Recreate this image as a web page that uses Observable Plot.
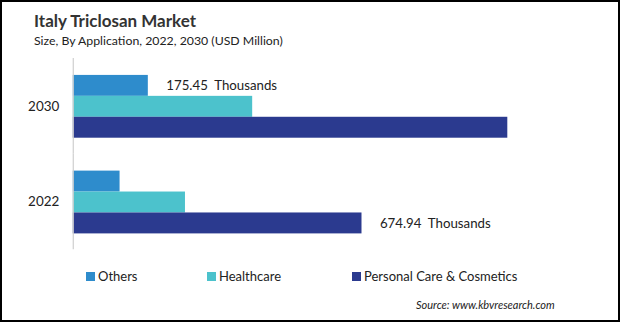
<!DOCTYPE html>
<html>
<head>
<meta charset="utf-8">
<script src="https://cdn.jsdelivr.net/npm/d3@7"></script>
<script src="https://cdn.jsdelivr.net/npm/@observablehq/plot@0.6"></script>
<style>
  html, body { margin: 0; padding: 0; background: #fff; }
  #frame { position: relative; width: 620px; height: 322px; box-sizing: border-box; border: 2px solid #000; overflow: hidden; font-family: Lato, "Open Sans", sans-serif; background: #fff; }
  #title { position: absolute; left: 32px; top: 8px; font-size: 17px; font-weight: 700; color: #333; white-space: nowrap; }
  #subtitle { position: absolute; left: 32px; top: 31px; font-size: 12.3px; color: #222; white-space: nowrap; }
  #chart { position: absolute; left: -2px; top: 46px; }
  #legend { position: absolute; top: 266px; left: 0; width: 620px; height: 20px; font-size: 13px; color: #222; }
  .item { position: absolute; top: 0; white-space: nowrap; }
  .sw { display: inline-block; width: 9px; height: 9px; margin-right: 3px; vertical-align: 0px; }
  #source { position: absolute; left: 414px; top: 296px; font-size: 11px; font-style: italic; color: #222; white-space: nowrap; }
  #chart svg text { white-space: pre; }
</style>
</head>
<body>
<div id="frame">
  <div id="title">Italy Triclosan Market</div>
  <div id="subtitle">Size, By Application, 2022, 2030 (USD Million)</div>
  <div id="chart"></div>
  <div id="legend"></div>
  <div id="source">Source: www.kbvresearch.com</div>
</div>
<script>
const years = ["2030", "2022"];
const series = ["Others", "Healthcare", "Personal Care & Cosmetics"];
const colors = ["#2e8ccc", "#4cc2cc", "#2b3a8f"];
// values per series, ordered like `years`
const others = [175.45, 109.4];
const healthcare = [419.4, 262.3];
const personalCare = [1015.8, 674.94];
// value labels shown on the chart: [series, year]
const labelled = [["Others", "2030"], ["Personal Care & Cosmetics", "2022"]];
const labelSuffix = "  Thousands";

const valuesBySeries = [others, healthcare, personalCare];
const data = [];
series.forEach((s, i) => years.forEach((y, j) => data.push({series: s, year: y, value: valuesBySeries[i][j]})));
const labelData = labelled.map(([s, y]) => data.find(d => d.series === s && d.year === y));

const chart = Plot.plot({
  width: 620,
  height: 212,
  marginLeft: 73,
  marginRight: 32,
  marginTop: 10,
  marginBottom: 10,
  style: {fontFamily: "Lato, 'Open Sans', sans-serif", fontSize: "13.5px", color: "#222", background: "transparent"},
  x: {domain: [0, 1200], axis: null},
  y: {domain: series, axis: null, paddingInner: 0, paddingOuter: 0.75},
  fy: {domain: years, paddingInner: 0, paddingOuter: 0, label: null, tickSize: 0, tickPadding: 14},
  color: {domain: series, range: colors},
  marks: [
    Plot.barX(data, {fy: "year", y: "series", x: "value", fill: "series"}),
    Plot.ruleX([0], {stroke: "#cfcfcf", strokeWidth: 1.2}),
    Plot.text(labelData, {fy: "year", y: "series", x: "value", text: d => d.value.toFixed(2) + labelSuffix, textAnchor: "start", dx: 18, fill: "#222", fontSize: 13.3})
  ]
});
document.getElementById("chart").appendChild(chart);

const legendPos = [84, 205, 350];
const legend = document.getElementById("legend");
series.forEach((s, i) => {
  const it = document.createElement("div");
  it.className = "item";
  it.style.left = legendPos[i] + "px";
  const sw = document.createElement("span");
  sw.className = "sw";
  sw.style.background = colors[i];
  it.appendChild(sw);
  it.appendChild(document.createTextNode(s));
  legend.appendChild(it);
});
</script>
</body>
</html>
